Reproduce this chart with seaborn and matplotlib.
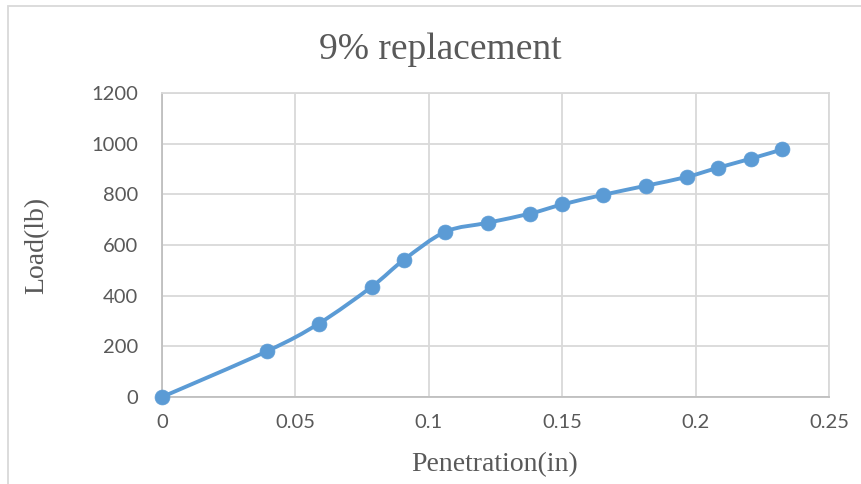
import matplotlib
matplotlib.use("Agg")
import matplotlib.pyplot as plt
from matplotlib.path import Path
from matplotlib.patches import PathPatch, Rectangle
import seaborn as sns
import numpy as np
import pandas as pd

# ---- data ----
penetration = [0.0, 0.0394, 0.0588, 0.0787, 0.0907, 0.1062, 0.1222, 0.1380,
               0.1500, 0.1653, 0.1814, 0.1968, 0.2084, 0.2208, 0.2324]
load = [0, 181, 290, 436, 542, 652, 688, 724, 760, 798, 834, 869, 905, 941, 977]
x_ticks = [0, 0.05, 0.1, 0.15, 0.2, 0.25]
x_tick_labels = ["0", "0.05", "0.1", "0.15", "0.2", "0.25"]
y_ticks = [0, 200, 400, 600, 800, 1000, 1200]
y_tick_labels = ["0", "200", "400", "600", "800", "1000", "1200"]
title = "9% replacement"
x_label = "Penetration(in)"
y_label = "Load(lb)"

df = pd.DataFrame({"pen": penetration, "load": load})

sns.set_theme(style="white")
plt.rcParams["font.family"] = ["Lato", "DejaVu Sans"]

W, H = 862, 484
fig = plt.figure(figsize=(W / 100, H / 100), dpi=100)
fig.patch.set_facecolor("white")

# outer chart border
fig.patches.append(Rectangle((8 / W, -0.05), 1.0, 1 - 6 / H + 0.05, transform=fig.transFigure,
                             fill=False, edgecolor="#d9d9d9", linewidth=1.3, zorder=0))

ax = fig.add_axes([162 / W, 1 - 397 / H, (829 - 162) / W, (397 - 93) / H])
ax.set_xlim(0, 0.25)
ax.set_ylim(0, 1200)

blue = "#5B9BD5"

# smooth (Excel-style Catmull-Rom Bezier) connecting line
pts = np.column_stack([penetration, load]).astype(float)
verts = [tuple(pts[0])]
codes = [Path.MOVETO]
n = len(pts)
for i in range(n - 1):
    p0 = pts[i - 1] if i > 0 else pts[i]
    p1 = pts[i]
    p2 = pts[i + 1]
    p3 = pts[i + 2] if i + 2 < n else pts[i + 1]
    c1 = p1 + (p2 - p0) / 6.0
    c2 = p2 - (p3 - p1) / 6.0
    verts += [tuple(c1), tuple(c2), tuple(p2)]
    codes += [Path.CURVE4] * 3
ax.add_patch(PathPatch(Path(verts, codes), fill=False, edgecolor=blue,
                       linewidth=2.8, capstyle="round", joinstyle="round", zorder=3))

sns.scatterplot(data=df, x="pen", y="load", ax=ax, color=blue, s=115,
                edgecolor=blue, linewidth=0.5, zorder=4, clip_on=False, legend=False)

ax.set_xticks(x_ticks)
ax.set_xticklabels(x_tick_labels)
ax.set_yticks(y_ticks)
ax.set_yticklabels(y_tick_labels)
ax.grid(True, color="#d9d9d9", linewidth=1.3)
ax.set_axisbelow(True)
for s in ax.spines.values():
    s.set_color("#d9d9d9")
    s.set_linewidth(1.3)
ax.spines["left"].set_color("#bfbfbf")
ax.spines["bottom"].set_color("#bfbfbf")
ax.tick_params(axis="both", length=0, labelsize=14.5, labelcolor="#595959")
ax.tick_params(axis="y", pad=17)
ax.tick_params(axis="x", pad=12)
ax.set_xlabel("")
ax.set_ylabel("")

serif = ["Liberation Serif", "DejaVu Serif"]
fig.text(440 / W, 1 - 50 / H, title, ha="center", va="center", family=serif,
         fontsize=27, color="#595959")
fig.text(495 / W, 1 - 465 / H, x_label, ha="center", va="center", family=serif,
         fontsize=20, color="#595959")
fig.text(37 / W, 1 - 245 / H, y_label, ha="center", va="center", family=serif,
         fontsize=20, color="#595959", rotation=90)

fig.savefig("out.png", dpi=100, facecolor="white")
